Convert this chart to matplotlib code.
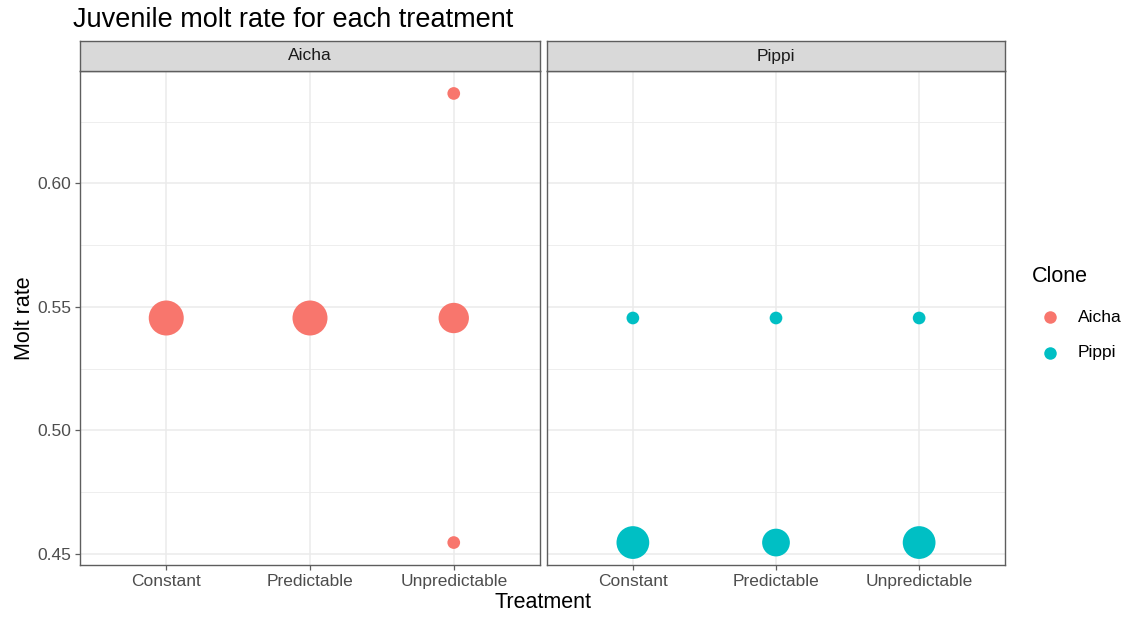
import numpy as np
import matplotlib.pyplot as plt

plt.rcParams['font.family'] = ['Liberation Sans', 'DejaVu Sans']

# data: one row per distinct point, with the number of animals at it
treatments = ['Constant', 'Predictable', 'Unpredictable']
clones = ['Aicha', 'Pippi']
colors = {'Aicha': '#F8766D', 'Pippi': '#00BFC4'}

aicha_treat = ['Constant', 'Predictable', 'Unpredictable', 'Unpredictable', 'Unpredictable']
aicha_rate = [6/11, 6/11, 6/11, 7/11, 5/11]
aicha_n = [8, 8, 6, 1, 1]

pippi_treat = ['Constant', 'Predictable', 'Unpredictable', 'Constant', 'Predictable', 'Unpredictable']
pippi_rate = [6/11, 6/11, 6/11, 5/11, 5/11, 5/11]
pippi_n = [1, 1, 1, 7, 5, 7]

data = {'Aicha': (aicha_treat, aicha_rate, aicha_n),
        'Pippi': (pippi_treat, pippi_rate, pippi_n)}

W, H = 1129, 617
fig = plt.figure(figsize=(W / 100, H / 100), dpi=100)

all_n = aicha_n + pippi_n
nmin, nmax = min(all_n), max(all_n)
# area scale like geom_count: diameter^2 linear in n (pixels)
d2_min, d2_max = 12.7 ** 2, 35.0 ** 2

def size_of(n):
    d2 = d2_min + (np.asarray(n) - nmin) / (nmax - nmin) * (d2_max - d2_min)
    return d2 * 0.72 ** 2

all_rate = aicha_rate + pippi_rate
ylo, yhi = min(all_rate), max(all_rate)
pad = (yhi - ylo) * 0.05

panels = [(80, 540), (547, 1005)]
ptop, pbot = 71, 565
strip_h = 30
edge = '#5E5E5E'

for i, clone in enumerate(clones):
    x0, x1 = panels[i]
    ax = fig.add_axes([x0 / W, 1 - pbot / H, (x1 - x0) / W, (pbot - ptop) / H])
    tr, rate, n = data[clone]
    xs = [treatments.index(t) + 1 for t in tr]
    ax.scatter(xs, rate, s=size_of(n), color=colors[clone], linewidths=0, zorder=3)

    ax.set_xlim(0.4, 3.6)
    ax.set_ylim(ylo - pad, yhi + pad)
    ax.set_xticks([1, 2, 3])
    ax.set_xticklabels(treatments)
    ax.set_yticks([0.45, 0.50, 0.55, 0.60])
    ax.set_yticks([0.475, 0.525, 0.575, 0.625], minor=True)
    ax.set_yticklabels(['0.45', '0.50', '0.55', '0.60'])
    ax.grid(True, which='major', color='#EBEBEB', lw=1.1, zorder=0)
    ax.grid(True, which='minor', axis='y', color='#EBEBEB', lw=0.6, zorder=0)
    ax.set_axisbelow(True)
    for sp in ax.spines.values():
        sp.set_color(edge)
        sp.set_linewidth(1.0)
    ax.tick_params(axis='both', which='major', length=3.5, width=0.9, color=edge,
                   labelsize=12.5, labelcolor='#4D4D4D', pad=3)
    ax.tick_params(axis='y', which='minor', length=0)
    if i > 0:
        ax.tick_params(axis='y', which='major', length=0, labelleft=False)

    # facet strip
    sax = fig.add_axes([x0 / W, 1 - ptop / H, (x1 - x0) / W, strip_h / H])
    sax.set_facecolor('#D9D9D9')
    sax.set_xticks([])
    sax.set_yticks([])
    for sp in sax.spines.values():
        sp.set_color(edge)
        sp.set_linewidth(1.0)
    sax.text(0.5, 0.5, clone, ha='center', va='center', fontsize=12.5,
             color='#1A1A1A', transform=sax.transAxes)

fig.text(73 / W, 1 - 27 / H, 'Juvenile molt rate for each treatment',
         ha='left', va='baseline', fontsize=19.5, color='black')
fig.text(543 / W, 1 - 602 / H, 'Treatment', ha='center', va='center', fontsize=15.5)
fig.text(24 / W, 1 - 318 / H, 'Molt rate', ha='center', va='center', fontsize=15.5,
         rotation=90)

# legend
fig.text(1032 / W, 1 - 277 / H, 'Clone', ha='left', va='center', fontsize=15.5)
lax = fig.add_axes([0, 0, 1, 1], facecolor='none')
lax.set_xlim(0, W)
lax.set_ylim(H, 0)
lax.axis('off')
for j, clone in enumerate(clones):
    y = 317 + j * 36
    lax.scatter([1050], [y], s=(12.5 * 0.72) ** 2, color=colors[clone], linewidths=0)
    lax.text(1078, y, clone, ha='left', va='center', fontsize=12.5, color='black')

fig.savefig('out.png', dpi=100)
